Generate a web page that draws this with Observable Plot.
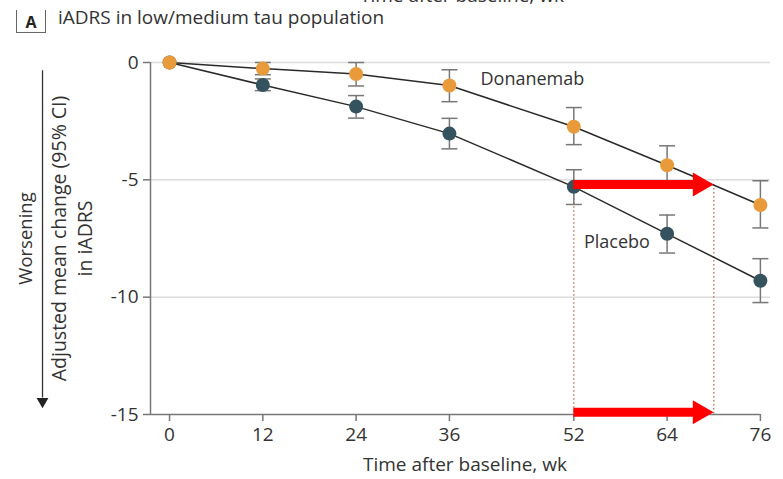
<!DOCTYPE html>
<html>
<head>
<meta charset="utf-8">
<script src="https://cdn.jsdelivr.net/npm/d3@7"></script>
<script src="https://cdn.jsdelivr.net/npm/@observablehq/plot@0.6"></script>
<style>
  html, body { margin: 0; padding: 0; background: #fff; }
  #wrap { position: relative; width: 783px; height: 479px; overflow: hidden; font-family: "Open Sans", sans-serif; color: #333; }
  #wrap svg { position: absolute; left: 0; top: 0; }
  .cut { position: absolute; left: 360px; top: -14px; font-size: 19px; line-height: 18px; white-space: nowrap; }
  .panel { position: absolute; left: 16px; top: 10px; width: 28px; height: 22px; border-left: 1px solid #666; border-right: 1px solid #666; border-bottom: 1px solid #666; font-weight: bold; font-size: 16px; line-height: 24px; text-align: center; color: #222; }
  .title { position: absolute; left: 58px; top: 5px; font-size: 19px; line-height: 24px; white-space: nowrap; }
</style>
</head>
<body>
<div id="wrap">
  <div class="cut">Time after baseline, wk</div>
  <div class="panel">A</div>
  <div class="title">iADRS in low/medium tau population</div>
</div>
<script>
const weeks = [0, 12, 24, 36, 52, 64, 76];
const donanemab   = [0, -0.26, -0.49, -0.98, -2.74, -4.38, -6.07];
const donanemabHi = [0, 0.0, 0.0, -0.31, -1.92, -3.55, -5.04];
const donanemabLo = [0, -0.52, -1.0, -1.67, -3.5, -5.05, -7.05];
const placebo     = [0, -0.96, -1.88, -3.03, -5.3, -7.3, -9.3];
const placeboHi   = [0, -0.7, -1.41, -2.38, -4.57, -6.5, -8.36];
const placeboLo   = [0, -1.2, -2.37, -3.68, -6.05, -8.12, -10.23];
const xTicks = [0, 12, 24, 36, 52, 64, 76];
const yTicks = [0, -5, -10, -15];
const gridY = [0, -5, -10];
const seriesNames = ["Placebo", "Donanemab"];
const seriesColors = ["#34535f", "#e99a3b"];
// time-saved arrows: from placebo week 52 level to where donanemab reaches it
const savings = [{from: 52, to: 70, y: -5.2}, {from: 52, to: 70, y: -14.9}];
const dropLines = [{x: 52, y: -5.3}, {x: 70, y: -5.2}];

const rows = [];
weeks.forEach((w, i) => {
  rows.push({group: "Placebo", week: w, value: placebo[i], lo: placeboLo[i], hi: placeboHi[i]});
});
weeks.forEach((w, i) => {
  rows.push({group: "Donanemab", week: w, value: donanemab[i], lo: donanemabLo[i], hi: donanemabHi[i]});
});
const bars = rows.filter(d => d.lo !== d.hi);
const caps = bars.flatMap(d => [{week: d.week, y: d.lo}, {week: d.week, y: d.hi}]);

const capSymbol = { draw(ctx) { ctx.moveTo(-8, 0); ctx.lineTo(8, 0); } };

const X0 = -2.45, X1 = 77.3;
const font = "Open Sans, sans-serif";

const chart = Plot.plot({
  width: 783,
  height: 479,
  marginTop: 62,
  marginBottom: 65,
  marginLeft: 150,
  marginRight: 13,
  style: {fontFamily: font, fontSize: "19px", color: "#333", background: "transparent", overflow: "visible"},
  x: {domain: [X0, X1]},
  y: {domain: [-15, 0]},
  color: {domain: seriesNames, range: seriesColors},
  marks: [
    Plot.ruleY(gridY, {x1: X0, x2: X1, stroke: "#dcdcdc", strokeWidth: 1.5}),
    Plot.ruleY([-15], {x1: X0, x2: 76, stroke: "#777", strokeWidth: 1.5}),
    Plot.ruleX([X0], {y1: 0, y2: -15, stroke: "#777", strokeWidth: 1.5}),
    Plot.axisY({ticks: yTicks, tickSize: 7, tickPadding: 5, stroke: "#777", strokeWidth: 1.5, fill: "#333", fontSize: 19,
      tickFormat: d => (d < 0 ? "-" + Math.abs(d) : String(d)), label: null}),
    Plot.axisX({ticks: xTicks, tickSize: 7, tickPadding: 6, stroke: "#777", strokeWidth: 1.5, fill: "#333", fontSize: 19,
      tickFormat: d => String(d), label: null}),
    Plot.text(["Time after baseline, wk"], {x: 38, frameAnchor: "bottom", dy: 56, fontSize: 19, fill: "#333"}),
    Plot.text(["Adjusted mean change (95% CI)\nin iADRS"], {frameAnchor: "left", textAnchor: "middle", dx: -80, rotate: -90, fontSize: 19.5, lineHeight: 1.35, fill: "#333"}),
    Plot.text(["Worsening"], {frameAnchor: "left", textAnchor: "middle", dx: -124, rotate: -90, fontSize: 18.5, fill: "#333"}),
    Plot.ruleX([-16.34], {y1: -0.35, y2: -14.3, stroke: "#333", strokeWidth: 1.3}),
    Plot.dot([{x: -16.34, y: -14.7}], {x: "x", y: "y", symbol: "triangle", rotate: 180, r: 4.4, fill: "#222", stroke: "none", dy: -6}),
    Plot.ruleX(dropLines, {x: "x", y1: "y", y2: -15, stroke: "#c8806a", strokeWidth: 1.5, strokeDasharray: "1.5,2.5"}),
    Plot.ruleX(bars, {x: "week", y1: "lo", y2: "hi", stroke: "#777", strokeWidth: 1.5}),
    Plot.dot(caps, {x: "week", y: "y", symbol: capSymbol, stroke: "#777", strokeWidth: 1.5, r: 5}),
    Plot.line(rows, {x: "week", y: "value", z: "group", stroke: "#2a2a2a", strokeWidth: 1.5}),
    Plot.dot(rows, {x: "week", y: "value", fill: "group", r: 7, stroke: "none"}),
    Plot.ruleY(savings, {y: "y", x1: "from", x2: d => d.to - 2.2, stroke: "#ff0000", strokeWidth: 9}),
    Plot.dot(savings, {x: "to", y: "y", symbol: "triangle", rotate: 90, r: 8.9, fill: "#ff0000", stroke: "none", dx: -14}),
    Plot.text(["Donanemab"], {x: 40, y: -0.7, textAnchor: "start", fontSize: 18, fill: "#333"}),
    Plot.text(["Placebo"], {x: 53.3, y: -7.65, textAnchor: "start", fontSize: 18, fill: "#333"})
  ]
});
document.getElementById("wrap").prepend(chart);
</script>
</body>
</html>
